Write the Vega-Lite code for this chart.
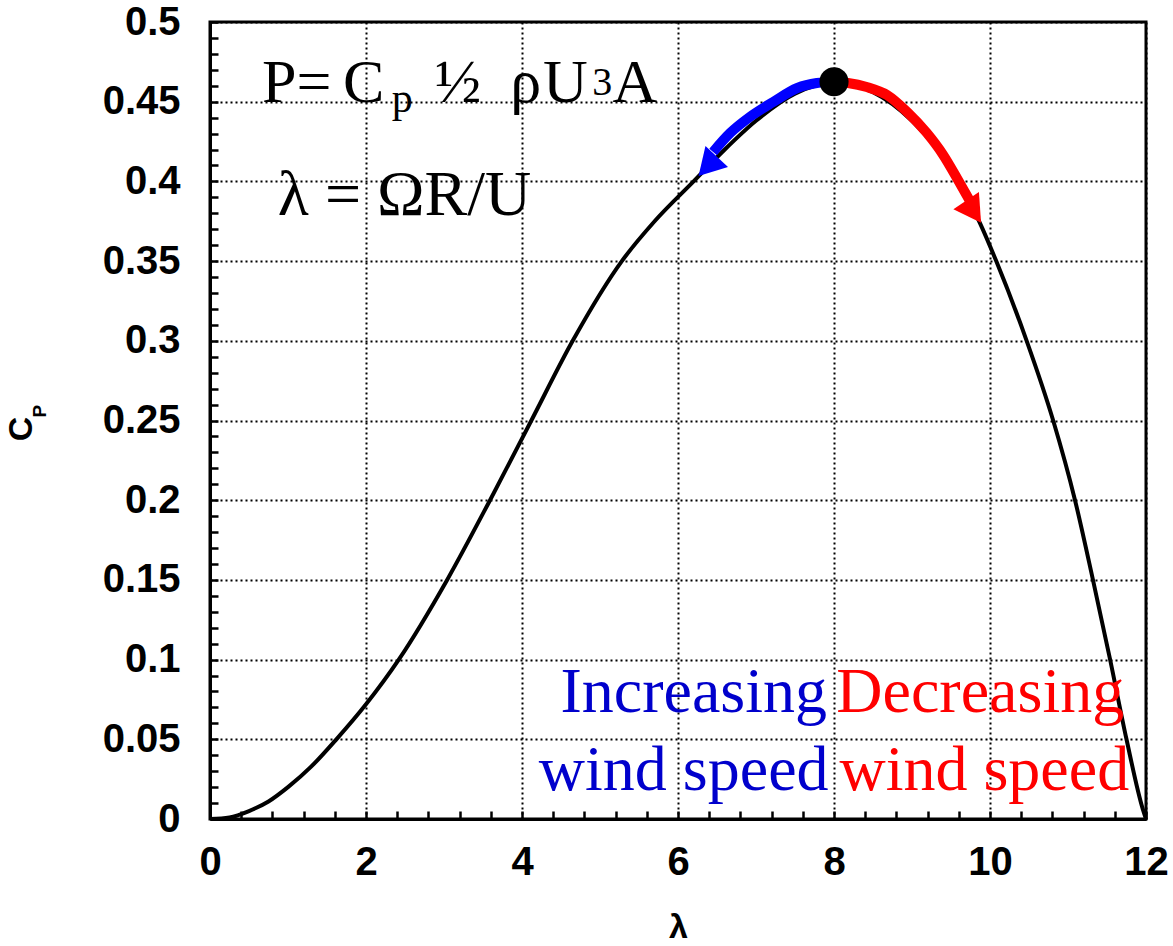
{
  "$schema": "https://vega.github.io/schema/vega-lite/v6.json",
  "width": 936,
  "height": 797,
  "autosize": "none",
  "padding": {"left": 210, "top": 22, "right": 27, "bottom": 127},
  "background": "white",
  "config": {
    "view": {"stroke": "black", "strokeWidth": 3},
    "axis": {
      "domainColor": "black",
      "domainWidth": 3,
      "tickColor": "black",
      "tickWidth": 2.5,
      "gridColor": "black",
      "gridWidth": 2,
      "gridDash": [2, 3],
      "labelFont": "Liberation Sans",
      "labelFontWeight": "bold",
      "labelFontSize": 40,
      "labelColor": "black",
      "titleFont": "Liberation Sans",
      "titleFontWeight": "bold",
      "titleColor": "black"
    },
    "text": {"font": "Liberation Serif", "baseline": "alphabetic", "align": "left", "color": "black"}
  },
  "datasets": {
    "curve": [
      {"lambda": 0, "cp": 0},
      {"lambda": 0.25, "cp": 0.001},
      {"lambda": 0.5, "cp": 0.005},
      {"lambda": 0.75, "cp": 0.011},
      {"lambda": 1.0, "cp": 0.02},
      {"lambda": 1.3, "cp": 0.033},
      {"lambda": 1.62, "cp": 0.05},
      {"lambda": 2.0, "cp": 0.072},
      {"lambda": 2.42, "cp": 0.1},
      {"lambda": 3.04, "cp": 0.15},
      {"lambda": 3.59, "cp": 0.2},
      {"lambda": 4.12, "cp": 0.25},
      {"lambda": 4.65, "cp": 0.3},
      {"lambda": 5.28, "cp": 0.35},
      {"lambda": 5.7, "cp": 0.375},
      {"lambda": 6.2, "cp": 0.4},
      {"lambda": 6.6, "cp": 0.42},
      {"lambda": 7.0, "cp": 0.438},
      {"lambda": 7.5, "cp": 0.455},
      {"lambda": 8.0, "cp": 0.462},
      {"lambda": 8.5, "cp": 0.456},
      {"lambda": 9.0, "cp": 0.438},
      {"lambda": 9.5, "cp": 0.408},
      {"lambda": 9.87, "cp": 0.374},
      {"lambda": 10.08, "cp": 0.35},
      {"lambda": 10.47, "cp": 0.3},
      {"lambda": 10.81, "cp": 0.25},
      {"lambda": 11.09, "cp": 0.2},
      {"lambda": 11.32, "cp": 0.15},
      {"lambda": 11.54, "cp": 0.1},
      {"lambda": 11.75, "cp": 0.05},
      {"lambda": 11.96, "cp": 0.006},
      {"lambda": 12.0, "cp": 0}
    ],
    "increasing": [
      {"lambda": 8.0, "cp": 0.4625},
      {"lambda": 7.78, "cp": 0.4617},
      {"lambda": 7.53, "cp": 0.4586},
      {"lambda": 7.22, "cp": 0.4498},
      {"lambda": 6.92, "cp": 0.4404},
      {"lambda": 6.67, "cp": 0.4304},
      {"lambda": 6.45, "cp": 0.4185}
    ],
    "decreasing": [
      {"lambda": 8.0, "cp": 0.4625},
      {"lambda": 8.18, "cp": 0.4617},
      {"lambda": 8.42, "cp": 0.4592},
      {"lambda": 8.68, "cp": 0.4542},
      {"lambda": 8.94, "cp": 0.4435},
      {"lambda": 9.19, "cp": 0.4304},
      {"lambda": 9.4, "cp": 0.4166},
      {"lambda": 9.59, "cp": 0.4009},
      {"lambda": 9.74, "cp": 0.388}
    ],
    "peak": [{"lambda": 8.0, "cp": 0.4625}],
    "headUp": [{"lambda": 6.38, "cp": 0.4095}],
    "headDown": [{"lambda": 9.79, "cp": 0.381}],
    "formulaMain": [
      {"label": "P=", "lambda": 0.667, "cp": 0.4498},
      {"label": "C", "lambda": 1.705, "cp": 0.4498},
      {"label": "½", "lambda": 2.88, "cp": 0.4498},
      {"label": "ρ", "lambda": 3.85, "cp": 0.4498},
      {"label": "U", "lambda": 4.27, "cp": 0.4498},
      {"label": "A", "lambda": 5.16, "cp": 0.4498}
    ],
    "formulaSub": [{"label": "p", "lambda": 2.33, "cp": 0.4435}],
    "formulaSup": [{"label": "3", "lambda": 4.9, "cp": 0.4545}],
    "formula2": [{"label": "λ = ΩR/U", "lambda": 0.87, "cp": 0.379}],
    "blueText": [
      {"label": "Increasing", "lambda": 7.91, "cp": 0.067},
      {"label": "wind speed", "lambda": 7.93, "cp": 0.018}
    ],
    "redText": [
      {"label": "Decreasing", "lambda": 8.03, "cp": 0.067},
      {"label": "wind speed", "lambda": 8.07, "cp": 0.018}
    ],
    "yTitleC": [{"label": "C", "lambda": -2.28, "cp": 0.2447}],
    "yTitleP": [{"label": "P", "lambda": -2.1, "cp": 0.2558}]
  },
  "encoding": {
    "x": {
      "field": "lambda",
      "type": "quantitative",
      "scale": {"domain": [0, 12], "nice": false, "zero": false},
      "axis": {
        "title": "λ",
        "titleFontSize": 34,
        "titlePadding": 28,
        "values": [0, 0.4, 0.8, 1.2, 1.6, 2, 2.4, 2.8, 3.2, 3.6, 4, 4.4, 4.8, 5.2, 5.6, 6, 6.4, 6.8, 7.2, 7.6, 8, 8.4, 8.8, 9.2, 9.6, 10, 10.4, 10.8, 11.2, 11.6, 12],
        "labelExpr": "abs(datum.value/2 - round(datum.value/2)) < 0.001 ? format(datum.value, 'd') : ''",
        "tickSize": -8,
        "gridOpacity": {"condition": {"test": "abs(datum.value/2 - round(datum.value/2)) < 0.001", "value": 1}, "value": 0},
        "labelPadding": 31,
        "labelOverlap": false,
        "labelFlush": false,
        "encode": {
          "ticks": {
            "update": {
              "y2": {"signal": "abs(datum.value/2 - round(datum.value/2)) < 0.001 ? -17 : -8"}
            }
          }
        }
      }
    },
    "y": {
      "field": "cp",
      "type": "quantitative",
      "scale": {"domain": [0, 0.5], "nice": false},
      "axis": {
        "title": null,
        "values": [0, 0.01, 0.02, 0.03, 0.04, 0.05, 0.06, 0.07, 0.08, 0.09, 0.1, 0.11, 0.12, 0.13, 0.14, 0.15, 0.16, 0.17, 0.18, 0.19, 0.2, 0.21, 0.22, 0.23, 0.24, 0.25, 0.26, 0.27, 0.28, 0.29, 0.3, 0.31, 0.32, 0.33, 0.34, 0.35, 0.36, 0.37, 0.38, 0.39, 0.4, 0.41, 0.42, 0.43, 0.44, 0.45, 0.46, 0.47, 0.48, 0.49, 0.5],
        "labelExpr": "abs(datum.value*20 - round(datum.value*20)) < 0.001 ? format(datum.value, '~g') : ''",
        "tickSize": -8,
        "gridOpacity": {"condition": {"test": "abs(datum.value*20 - round(datum.value*20)) < 0.001", "value": 1}, "value": 0},
        "labelPadding": 38,
        "labelOverlap": false,
        "labelFlush": false,
        "encode": {
          "ticks": {
            "update": {
              "x2": {"signal": "abs(datum.value*20 - round(datum.value*20)) < 0.001 ? 20 : 8"}
            }
          }
        }
      }
    }
  },
  "layer": [
    {
      "data": {"name": "curve"},
      "mark": {"type": "line", "color": "black", "strokeWidth": 4, "interpolate": "monotone", "clip": true}
    },
    {
      "data": {"name": "increasing"},
      "mark": {"type": "line", "color": "#0000ff", "strokeWidth": 10, "interpolate": "monotone"}
    },
    {
      "data": {"name": "decreasing"},
      "mark": {"type": "line", "color": "#ff0000", "strokeWidth": 10, "interpolate": "monotone"}
    },
    {
      "data": {"name": "headUp"},
      "mark": {"type": "point", "shape": "triangle-up", "filled": true, "color": "#0000ff", "opacity": 1, "size": 950, "angle": 223}
    },
    {
      "data": {"name": "headDown"},
      "mark": {"type": "point", "shape": "triangle-up", "filled": true, "color": "#ff0000", "opacity": 1, "size": 950, "angle": 146}
    },
    {
      "data": {"name": "peak"},
      "mark": {"type": "circle", "color": "black", "opacity": 1, "size": 850}
    },
    {
      "data": {"name": "formulaMain"},
      "mark": {"type": "text", "fontSize": 62},
      "encoding": {"text": {"field": "label"}}
    },
    {
      "data": {"name": "formulaSub"},
      "mark": {"type": "text", "fontSize": 42},
      "encoding": {"text": {"field": "label"}}
    },
    {
      "data": {"name": "formulaSup"},
      "mark": {"type": "text", "fontSize": 40},
      "encoding": {"text": {"field": "label"}}
    },
    {
      "data": {"name": "formula2"},
      "mark": {"type": "text", "fontSize": 64},
      "encoding": {"text": {"field": "label"}}
    },
    {
      "data": {"name": "blueText"},
      "mark": {"type": "text", "fontSize": 64, "align": "right", "color": "#0000cc"},
      "encoding": {"text": {"field": "label"}}
    },
    {
      "data": {"name": "redText"},
      "mark": {"type": "text", "fontSize": 64, "color": "#ff0000"},
      "encoding": {"text": {"field": "label"}}
    },
    {
      "data": {"name": "yTitleC"},
      "mark": {"type": "text", "font": "Liberation Sans", "fontWeight": "bold", "fontSize": 34, "align": "center", "angle": 270},
      "encoding": {"text": {"field": "label"}}
    },
    {
      "data": {"name": "yTitleP"},
      "mark": {"type": "text", "font": "Liberation Sans", "fontWeight": "bold", "fontSize": 19, "align": "center", "angle": 270},
      "encoding": {"text": {"field": "label"}}
    }
  ]
}
